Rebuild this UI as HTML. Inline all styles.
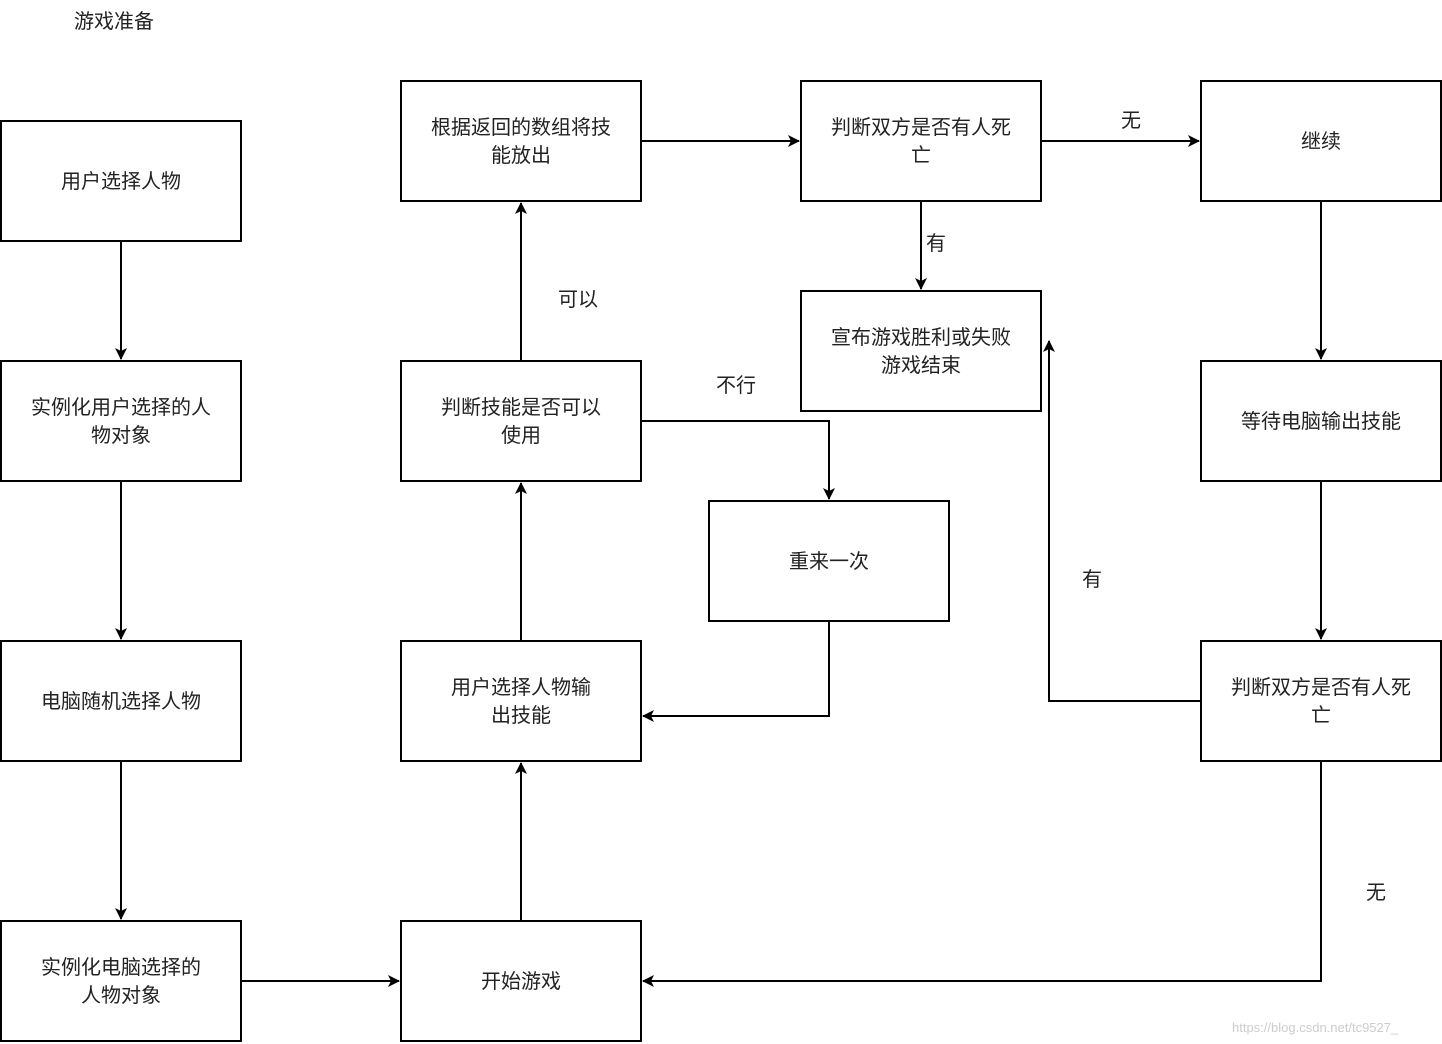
<!DOCTYPE html>
<html><head><meta charset="utf-8"><style>
html,body{margin:0;padding:0;background:#fff;}
svg{display:block;}
text{font-family:"Liberation Sans","Noto Sans CJK SC",sans-serif;font-size:20px;fill:#222;}
</style></head><body>
<svg width="1442" height="1044" viewBox="0 0 1442 1044" xmlns="http://www.w3.org/2000/svg">
<defs>
<marker id="a" viewBox="0 0 12 12" refX="11" refY="6" markerWidth="12" markerHeight="12" markerUnits="userSpaceOnUse" orient="auto">
<path d="M0,0 L12,6 L0,12 L3,6 Z" fill="#000"/>
</marker>
</defs>
<text x="74" y="28">游戏准备</text>
<g fill="#fff" stroke="#000" stroke-width="2">
<rect x="1" y="121" width="240" height="120"/>
<rect x="1" y="361" width="240" height="120"/>
<rect x="1" y="641" width="240" height="120"/>
<rect x="1" y="921" width="240" height="120"/>
<rect x="401" y="921" width="240" height="120"/>
<rect x="401" y="641" width="240" height="120"/>
<rect x="401" y="361" width="240" height="120"/>
<rect x="401" y="81" width="240" height="120"/>
<rect x="801" y="81" width="240" height="120"/>
<rect x="1201" y="81" width="240" height="120"/>
<rect x="801" y="291" width="240" height="120"/>
<rect x="709" y="501" width="240" height="120"/>
<rect x="1201" y="361" width="240" height="120"/>
<rect x="1201" y="641" width="240" height="120"/>
</g>
<g fill="none" stroke="#000" stroke-width="2" marker-end="url(#a)">
<path d="M121,241 V359"/>
<path d="M121,481 V639"/>
<path d="M121,761 V919"/>
<path d="M241,981 H399"/>
<path d="M521,921 V763"/>
<path d="M521,641 V483"/>
<path d="M521,361 V203"/>
<path d="M641,141 H799"/>
<path d="M1041,141 H1199"/>
<path d="M921,201 V289"/>
<path d="M1321,201 V359"/>
<path d="M1321,481 V639"/>
<path d="M1201,701 H1049 V341"/>
<path d="M1321,761 V981 H643"/>
<path d="M641,421 H829 V499"/>
<path d="M829,621 V716 H643"/>
</g>
<g text-anchor="middle">
<text x="121" y="188">用户选择人物</text>
<text x="121" y="414">实例化用户选择的人</text>
<text x="121" y="442">物对象</text>
<text x="121" y="708">电脑随机选择人物</text>
<text x="121" y="974">实例化电脑选择的</text>
<text x="121" y="1002">人物对象</text>
<text x="521" y="988">开始游戏</text>
<text x="521" y="694">用户选择人物输</text>
<text x="521" y="722">出技能</text>
<text x="521" y="414">判断技能是否可以</text>
<text x="521" y="442">使用</text>
<text x="521" y="134">根据返回的数组将技</text>
<text x="521" y="162">能放出</text>
<text x="921" y="134">判断双方是否有人死</text>
<text x="921" y="162">亡</text>
<text x="1321" y="148">继续</text>
<text x="921" y="344">宣布游戏胜利或失败</text>
<text x="921" y="372">游戏结束</text>
<text x="829" y="568">重来一次</text>
<text x="1321" y="428">等待电脑输出技能</text>
<text x="1321" y="694">判断双方是否有人死</text>
<text x="1321" y="722">亡</text>
<text x="578" y="306">可以</text>
<text x="736" y="392">不行</text>
<text x="1131" y="127">无</text>
<text x="936" y="250">有</text>
<text x="1092" y="586">有</text>
<text x="1376" y="899">无</text>
</g>
<text x="1232" y="1032" style="font-size:13px;fill:#ccc;">https://blog.csdn.net/tc9527_</text>
</svg>
</body></html>
